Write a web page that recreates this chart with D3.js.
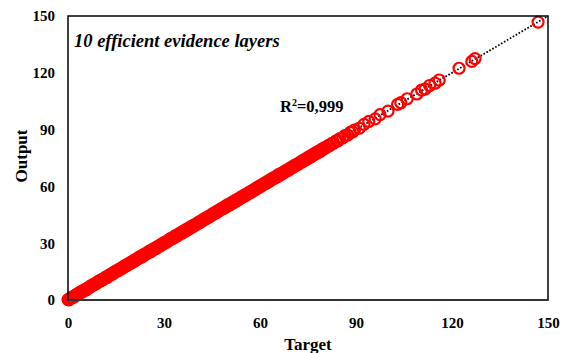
<!DOCTYPE html>
<html>
<head>
<meta charset="utf-8">
<script src="https://cdn.jsdelivr.net/npm/d3@7"></script>
<style>
  html, body { margin: 0; padding: 0; background: #fff; }
  svg { display: block; }
  text { font-family: "Liberation Serif", "Times New Roman", serif; font-weight: bold; fill: #000; }
</style>
</head>
<body>
<svg id="chart" width="566" height="353"></svg>
<script>
// ---- data ----
const targets = [
  0,0.3,0.7,1.1,1.4,1.9,2.2,2.6,3.1,3.4,3.8,4.3,4.6,5.0,5.5,5.8,6.2,6.7,7.0,7.4,7.9,
  8.2,8.6,9.1,9.4,9.8,10.3,10.6,11.0,11.5,11.8,12.2,12.7,13.0,13.4,13.9,14.2,14.6,15.1,15.4,15.8,
  16.2,16.6,17.1,17.4,17.8,18.3,18.6,19.0,19.5,19.8,20.2,20.7,21.0,21.4,21.9,22.2,22.6,23.1,23.4,23.8,
  24.2,24.6,25.1,25.4,25.8,26.3,26.6,27.0,27.5,27.8,28.2,28.7,29.0,29.4,29.9,30.2,30.6,31.1,31.4,31.8,
  32.2,32.6,33.1,33.4,33.8,34.3,34.6,35.0,35.5,35.8,36.2,36.7,37.0,37.4,37.9,38.2,38.6,39.1,39.4,39.8,
  40.2,40.6,41.1,41.4,41.8,42.3,42.6,43.0,43.5,43.8,44.2,44.7,45.0,45.4,45.9,46.2,46.6,47.1,47.4,47.8,
  48.2,48.6,49.1,49.4,49.8,50.3,50.6,51.0,51.5,51.8,52.2,52.7,53.0,53.4,53.9,54.2,54.6,55.1,55.4,55.8,
  56.2,56.6,57.1,57.4,57.8,58.3,58.6,59.0,59.5,59.8,60.2,60.7,61.0,61.4,61.9,62.2,62.6,63.1,63.4,63.8,
  64.2,64.6,65.1,65.4,65.8,66.3,66.6,67.0,67.5,67.8,68.2,68.7,69.0,69.4,69.9,70.2,70.6,71.1,71.4,71.8,
  72.2,72.6,73.1,73.4,73.8,74.3,74.6,75.0,75.5,75.8,76.2,76.7,77.0,77.4,77.9,78.2,78.6,79.1,79.5,80.0,
  80.6,81.3,81.8,82.5,83.0,83.8,84.3,85.0,85.9,86.5,87.4,88.2,89.0,
  89.5,91.0,92.5,94.0,96.0,97.5,100.0,103.0,104.0,106.0,109.0,110.5,111.6,113.0,114.7,116.0,122.2,126.2,127.2,146.9
];
const outputs = [
  0.2,0.1,0.9,1.4,1.2,2.1,1.9,2.9,3.0,3.7,4.2,4.0,4.8,4.9,5.8,5.4,6.3,6.9,6.8,7.8,8.1,
  8.0,8.9,9.0,9.7,10.1,10.1,10.9,10.8,11.7,12.1,11.9,12.9,13.3,13.2,14.2,13.9,14.9,15.0,15.7,15.6,
  16.5,16.3,17.3,17.2,18.2,18.0,18.9,18.8,19.8,19.5,20.5,20.4,21.3,21.2,22.0,22.6,22.3,23.4,23.1,24.1,
  24.0,24.9,24.9,25.8,25.5,26.6,26.4,27.3,27.2,28.1,27.9,29.0,28.7,29.7,29.6,30.5,30.3,31.4,31.2,32.1,
  32.5,32.3,33.4,33.1,34.2,34.0,34.9,34.8,35.8,35.5,36.5,36.4,37.3,37.1,38.2,37.9,38.9,38.8,39.7,39.6,
  40.0,40.9,40.8,41.7,41.6,42.6,42.3,43.3,43.2,44.1,43.9,45.0,44.8,45.7,45.6,46.5,46.3,47.4,47.2,48.1,
  48.5,48.3,49.4,49.1,50.2,50.0,50.9,50.7,51.8,51.5,52.5,52.4,53.3,53.1,54.2,53.9,54.9,54.8,55.7,55.5,
  56.0,56.9,56.8,57.7,57.5,58.6,58.3,59.3,59.2,60.1,59.9,61.0,60.8,61.7,61.6,62.5,62.3,63.4,63.2,64.1,
  64.5,64.3,65.4,65.1,66.2,66.0,66.9,66.7,67.8,67.5,68.5,68.4,69.3,69.1,70.2,69.9,70.9,70.8,71.7,71.5,
  72.0,72.9,72.8,73.7,73.5,74.6,74.3,75.3,75.2,76.1,75.9,77.0,76.8,77.7,77.6,78.5,78.3,79.4,79.2,80.3,
  80.4,81.6,81.5,82.8,82.7,84.1,84.0,85.3,85.6,86.8,87.1,88.5,88.8,
  89.8,90.7,92.8,94.3,95.7,97.9,99.8,103.3,104.2,106.3,108.8,110.9,111.4,113.3,114.5,116.2,122.4,126.0,127.5,146.8
];
const xTicks = [0, 30, 60, 90, 120, 150];
const yTicks = [0, 30, 60, 90, 120, 150];
const trend = [[0, 0], [150, 150]];
const titleText = "10 efficient evidence layers";
const xLabel = "Target";
const yLabel = "Output";

// ---- chart ----
const svg = d3.select("#chart");
const L = 68, R = 548, T = 16, B = 300;
const x = d3.scaleLinear().domain([0, 150]).range([L, R]);
const y = d3.scaleLinear().domain([0, 150]).range([B, T]);

// axes (labels only)
const gx = svg.append("g").attr("transform", `translate(0,${B})`)
  .call(d3.axisBottom(x).tickValues(xTicks).tickSize(0).tickPadding(17));
gx.select(".domain").remove();
gx.selectAll("text").style("font-size", "15px").style("font-family", "Liberation Serif").style("font-weight", "bold");

const gy = svg.append("g").attr("transform", `translate(${L},0)`)
  .call(d3.axisLeft(y).tickValues(yTicks).tickSize(0).tickPadding(13));
gy.select(".domain").remove();
gy.selectAll("text").style("font-size", "15px").style("font-family", "Liberation Serif").style("font-weight", "bold");

// trend line
svg.append("path")
  .attr("d", d3.line().x(d => x(d[0])).y(d => y(d[1]))(trend))
  .attr("fill", "none").attr("stroke", "#000")
  .attr("stroke-width", 1.8).attr("stroke-dasharray", "1.6,1.8");

// points
const pts = targets.map((t, i) => [t, outputs[i]]);
svg.append("g").selectAll("circle").data(pts).join("circle")
  .attr("cx", d => x(d[0])).attr("cy", d => y(d[1])).attr("r", 5.5)
  .attr("fill", "none").attr("stroke", "#ff0000").attr("stroke-width", 2.2);

// frame
svg.append("rect").attr("x", L).attr("y", T).attr("width", R - L).attr("height", B - T)
  .attr("fill", "none").attr("stroke", "#000").attr("stroke-width", 1.5);
svg.append("line").attr("x1", L).attr("x2", R).attr("y1", B).attr("y2", B)
  .attr("stroke", "#333").attr("stroke-width", 2.2);

// annotations
svg.append("text").attr("x", 74).attr("y", 47)
  .style("font-size", "18.5px").style("font-style", "italic").text(titleText);

const r2 = svg.append("text").attr("x", 280).attr("y", 112).style("font-size", "16.5px");
r2.append("tspan").text("R");
r2.append("tspan").attr("dy", -6).style("font-size", "10px").text("2");
r2.append("tspan").attr("dy", 6).text("=0,999");

svg.append("text").attr("x", (L + R) / 2).attr("y", 350).attr("text-anchor", "middle")
  .style("font-size", "17px").text(xLabel);
svg.append("text").attr("transform", `translate(27,156) rotate(-90)`).attr("text-anchor", "middle")
  .style("font-size", "17px").text(yLabel);
</script>
</body>
</html>
